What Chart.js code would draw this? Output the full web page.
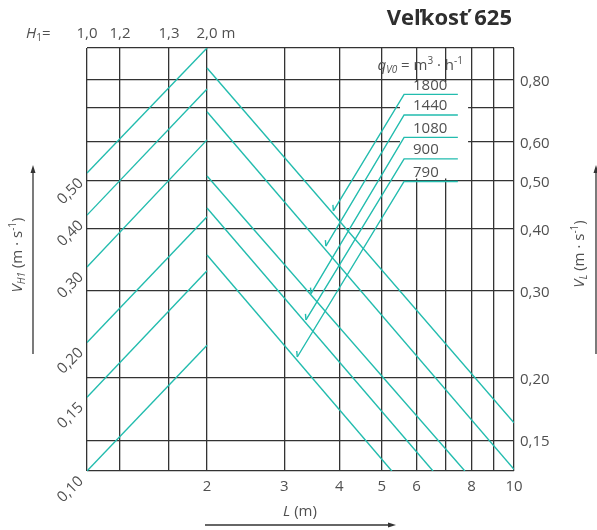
<!DOCTYPE html>
<html>
<head>
<meta charset="utf-8">
<script src="https://cdn.jsdelivr.net/npm/chart.js@4"></script>
<style>
  html, body { margin: 0; padding: 0; background: #fff; }
  canvas { display: block; }
</style>
</head>
<body>
<canvas id="chart" width="597" height="530"></canvas>
<script>
// L axis (m), log scale
const lenMin = 1.066, lenMax = 10;
const lenGrid = [1.066, 1.267, 1.639, 2, 3, 4, 5, 6, 7, 8, 9, 10];
const lenLabels = [2, 3, 4, 5, 6, 8, 10];

// V_L axis (m/s), log scale
const velMin = 0.13, velMax = 0.925;
const velGrid = [0.13, 0.15, 0.2, 0.3, 0.4, 0.5, 0.6, 0.7, 0.8, 0.925];
const velLabels = [0.15, 0.2, 0.3, 0.4, 0.5, 0.6, 0.8];

// H1 scale on top of the left part
const h1Labels = ['1,0', '1,2', '1,3', '2,0 m'];
const h1Pos = [1.066, 1.267, 1.639, 2];

// V_H1 lines (left part)
const vh1Labels = ['0,50', '0,40', '0,30', '0,20', '0,15', '0,10'];
const vh1From = [0.518, 0.426, 0.335, 0.236, 0.183, 0.13];
const vh1To = [0.925, 0.765, 0.604, 0.423, 0.329, 0.233];

// flow lines q_V0 (m3/h)
const flows = ['1800', '1440', '1080', '900', '790'];
const flowStartV = [0.843, 0.688, 0.511, 0.4405, 0.354];
const flowEndL = [10, 10, 7.73, 6.54, 5.27];
const flowEndV = [0.1625, 0.131, 0.13, 0.13, 0.13];

// pointer lines from the flow labels
const tagL = [5.62, 7.45];
const tagV = [0.746, 0.678, 0.611, 0.553, 0.498];
const tipL = [3.88, 3.73, 3.45, 3.36, 3.21];
const tipV = [0.4345, 0.369, 0.296, 0.262, 0.2206];

const CYAN = '#22bcae';
const GRID = '#333';
const TEXT = '#505050';
const FONT = "'Open Sans', sans-serif";

function fmt(v) {
    return v.toFixed(2).replace('.', ',');
}

// draw a line of text made of parts (italic, sub/superscripts)
function rich(ctx, parts, x, y, align) {
    let total = 0;
    parts.forEach(p => {
        ctx.font = (p.italic ? 'italic ' : '') + (p.size || 15) + 'px ' + FONT;
        p.w = ctx.measureText(p.t).width;
        total += p.w;
    });
    let cx = align === 'right' ? x - total : align === 'center' ? x - total / 2 : x;
    ctx.textAlign = 'left';
    ctx.textBaseline = 'middle';
    parts.forEach(p => {
        ctx.font = (p.italic ? 'italic ' : '') + (p.size || 15) + 'px ' + FONT;
        ctx.fillText(p.t, cx, y + (p.dy || 0));
        cx += p.w;
    });
}

function arrow(ctx, x1, y1, x2, y2) {
    const a = Math.atan2(y2 - y1, x2 - x1);
    ctx.beginPath();
    ctx.moveTo(x1, y1);
    ctx.lineTo(x2 - 6 * Math.cos(a), y2 - 6 * Math.sin(a));
    ctx.stroke();
    ctx.beginPath();
    ctx.moveTo(x2, y2);
    ctx.lineTo(x2 - 8 * Math.cos(a) + 2.5 * Math.sin(a), y2 - 8 * Math.sin(a) - 2.5 * Math.cos(a));
    ctx.lineTo(x2 - 8 * Math.cos(a) - 2.5 * Math.sin(a), y2 - 8 * Math.sin(a) + 2.5 * Math.cos(a));
    ctx.closePath();
    ctx.fill();
}

const datasets = [];
vh1From.forEach((v, i) => {
    datasets.push({ data: [{ x: lenMin, y: v }, { x: 2, y: vh1To[i] }] });
});
flows.forEach((q, i) => {
    datasets.push({ data: [{ x: 2, y: flowStartV[i] }, { x: flowEndL[i], y: flowEndV[i] }] });
});
flows.forEach((q, i) => {
    datasets.push({ data: [{ x: tipL[i], y: tipV[i] }, { x: tagL[0], y: tagV[i] }, { x: tagL[1], y: tagV[i] }] });
});
datasets.forEach(d => {
    d.showLine = true;
    d.pointRadius = 0;
    d.borderColor = CYAN;
    d.borderWidth = 1.4;
    d.fill = false;
});

const overlay = {
    id: 'overlay',
    beforeDatasetsDraw(chart) {
        // white label box over the grid
        const { ctx, scales: { x, y } } = chart;
        const x0 = x.getPixelForValue(5.5), x1 = x.getPixelForValue(7.86);
        const y0 = y.getPixelForValue(0.79), y1 = y.getPixelForValue(0.505);
        ctx.save();
        ctx.fillStyle = '#fff';
        ctx.fillRect(x0, y0, x1 - x0, y1 - y0);
        ctx.restore();
    },
    afterDatasetsDraw(chart) {
        const { ctx, chartArea: area, scales: { x, y } } = chart;
        ctx.save();

        // arrow barbs on the pointer lines
        ctx.strokeStyle = CYAN;
        ctx.lineWidth = 1.4;
        tipL.forEach((l, i) => {
            const px = x.getPixelForValue(l), py = y.getPixelForValue(tipV[i]);
            ctx.beginPath();
            ctx.moveTo(px, py);
            ctx.lineTo(px - 0.5, py - 6);
            ctx.stroke();
        });

        ctx.fillStyle = TEXT;

        // flow labels
        flows.forEach((q, i) => {
            rich(ctx, [{ t: q }], x.getPixelForValue(5.89), y.getPixelForValue(tagV[i]) - 9, 'left');
        });
        rich(ctx, [
            { t: 'q', italic: true },
            { t: 'V0', italic: true, size: 10, dy: 4 },
            { t: ' = m' },
            { t: '3', size: 10, dy: -5 },
            { t: ' \u00b7 h' },
            { t: '-1', size: 10, dy: -5 }
        ], 463, 66, 'right');

        // bottom L labels
        ctx.font = '15px ' + FONT;
        ctx.textAlign = 'center';
        ctx.textBaseline = 'middle';
        lenLabels.forEach(v => ctx.fillText(String(v), x.getPixelForValue(v), area.bottom + 16));

        // right V_L labels
        ctx.textAlign = 'left';
        velLabels.forEach(v => ctx.fillText(fmt(v), area.right + 6, y.getPixelForValue(v) + 2));

        // top H1 labels
        h1Labels.forEach((t, i) => {
            ctx.font = '15px ' + FONT;
            const w = ctx.measureText(t.split(' ')[0]).width;
            ctx.textAlign = 'left';
            ctx.fillText(t, x.getPixelForValue(h1Pos[i]) - w / 2, area.top - 14);
        });
        rich(ctx, [
            { t: 'H', italic: true },
            { t: '1', size: 10, dy: 4 },
            { t: '=' }
        ], 26, area.top - 14, 'left');

        // rotated V_H1 labels at the start of each line
        vh1Labels.forEach((t, i) => {
            const px = x.getPixelForValue(lenMin), py = y.getPixelForValue(vh1From[i]);
            ctx.save();
            ctx.translate(px - 6, py + 8);
            ctx.rotate(-Math.PI / 4);
            ctx.font = '15px ' + FONT;
            ctx.textAlign = 'right';
            ctx.textBaseline = 'middle';
            ctx.fillText(t, 0, 0);
            ctx.restore();
        });

        // axis titles
        rich(ctx, [{ t: 'L', italic: true }, { t: ' (m)' }], 300, 512, 'center');
        ctx.save();
        ctx.translate(18, 255);
        ctx.rotate(-Math.PI / 2);
        rich(ctx, [
            { t: 'V', italic: true },
            { t: 'H1', italic: true, size: 10, dy: 4 },
            { t: ' (m \u00b7 s' },
            { t: '-1', size: 10, dy: -5 },
            { t: ')' }
        ], 0, 0, 'center');
        ctx.restore();
        ctx.save();
        ctx.translate(580, 254);
        ctx.rotate(-Math.PI / 2);
        rich(ctx, [
            { t: 'V', italic: true },
            { t: 'L', italic: true, size: 10, dy: 4 },
            { t: ' (m \u00b7 s' },
            { t: '-1', size: 10, dy: -5 },
            { t: ')' }
        ], 0, 0, 'center');
        ctx.restore();

        // direction arrows
        ctx.strokeStyle = '#333';
        ctx.fillStyle = '#333';
        ctx.lineWidth = 1.3;
        arrow(ctx, 205, 525, 396, 525);
        arrow(ctx, 33, 354, 33, 165);
        arrow(ctx, 596, 354, 596, 165);

        // title
        ctx.fillStyle = '#2e2e2e';
        ctx.font = 'bold 22px ' + FONT;
        ctx.textAlign = 'right';
        ctx.textBaseline = 'middle';
        ctx.fillText('Veľkosť 625', 512, 19);

        ctx.restore();
    }
};

new Chart(document.getElementById('chart'), {
    type: 'scatter',
    data: { datasets: datasets },
    options: {
        responsive: false,
        devicePixelRatio: 1,
        animation: false,
        events: [],
        layout: { padding: { left: 87, right: 83, top: 48, bottom: 59 } },
        plugins: { legend: { display: false }, tooltip: { enabled: false } },
        scales: {
            x: {
                type: 'logarithmic',
                min: lenMin,
                max: lenMax,
                afterBuildTicks: axis => { axis.ticks = lenGrid.map(v => ({ value: v })); },
                ticks: { display: false },
                grid: { color: GRID, lineWidth: 1.3, drawTicks: false },
                border: { display: false }
            },
            y: {
                type: 'logarithmic',
                min: velMin,
                max: velMax,
                afterBuildTicks: axis => { axis.ticks = velGrid.map(v => ({ value: v })); },
                ticks: { display: false },
                grid: { color: GRID, lineWidth: 1.3, drawTicks: false },
                border: { display: false }
            }
        }
    },
    plugins: [overlay]
});
</script>
</body>
</html>
